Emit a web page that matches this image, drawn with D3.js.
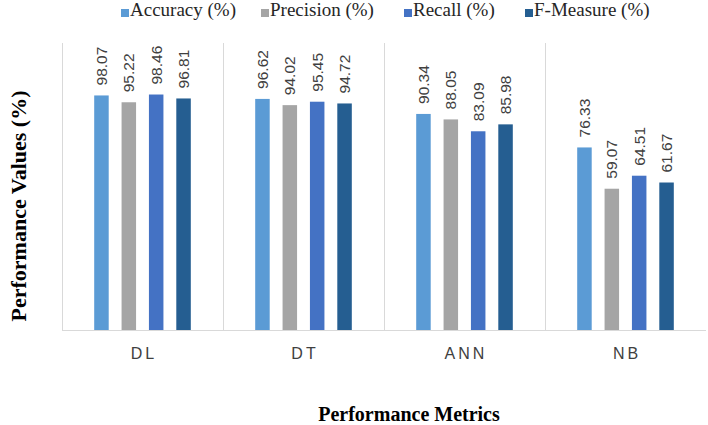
<!DOCTYPE html>
<html>
<head>
<meta charset="utf-8">
<script src="https://cdn.jsdelivr.net/npm/d3@7/dist/d3.min.js"></script>
<style>
  html, body { margin: 0; padding: 0; background: #fff; }
  svg { display: block; }
</style>
</head>
<body>
<svg id="chart" width="708" height="425"></svg>
<script>
const categories = ["DL", "DT", "ANN", "NB"];
const seriesNames = ["Accuracy (%)", "Precision (%)", "Recall (%)", "F-Measure (%)"];
const accuracy  = [98.07, 96.62, 90.34, 76.33];
const precision = [95.22, 94.02, 88.05, 59.07];
const recall    = [98.46, 95.45, 83.09, 64.51];
const fmeasure  = [96.81, 94.72, 85.98, 61.67];
const seriesColors = ["#5B9BD5", "#A5A5A5", "#4472C4", "#255E91"];
const yDomain = [0, 120];

const seriesValues = [accuracy, precision, recall, fmeasure];
const data = categories.map((c, i) => ({
  cat: c,
  vals: seriesNames.map((s, j) => ({ series: s, value: seriesValues[j][i], color: seriesColors[j] }))
}));

const svg = d3.select("#chart");
const plot = { left: 62, right: 706, top: 43, bottom: 330 };

const x0 = d3.scaleBand().domain(categories).range([plot.left, plot.right])
  .paddingInner(0.4).paddingOuter(0.2);
const x1 = d3.scaleBand().domain(seriesNames).range([0, x0.bandwidth()])
  .paddingInner(0.47).paddingOuter(0);
const y = d3.scaleLinear().domain(yDomain).range([plot.bottom, plot.top]);

// category separators
const step = x0.step();
const seps = categories.map((c, i) => plot.left + i * step);
svg.append("g").selectAll("line").data(seps).join("line")
  .attr("x1", d => d + 0.5).attr("x2", d => d + 0.5)
  .attr("y1", y(yDomain[1])).attr("y2", y(0))
  .attr("stroke", "#d9d9d9").attr("stroke-width", 1);

// baseline
svg.append("line")
  .attr("x1", plot.left).attr("x2", plot.right)
  .attr("y1", y(0) + 0.5).attr("y2", y(0) + 0.5)
  .attr("stroke", "#d9d9d9").attr("stroke-width", 1);

// bars
const groups = svg.append("g").selectAll("g").data(data).join("g")
  .attr("transform", d => `translate(${x0(d.cat)},0)`);

groups.selectAll("rect").data(d => d.vals).join("rect")
  .attr("x", d => x1(d.series))
  .attr("width", x1.bandwidth())
  .attr("y", d => y(d.value))
  .attr("height", d => y(0) - y(d.value))
  .attr("fill", d => d.color);

// value labels (rotated)
groups.selectAll("text").data(d => d.vals).join("text")
  .attr("transform", d => `translate(${x1(d.series) + x1.bandwidth() / 2 + 5.5},${y(d.value) - 10}) rotate(-90)`)
  .attr("text-anchor", "start")
  .attr("font-family", "'Liberation Sans', Arial, sans-serif")
  .attr("font-size", 15.5)
  .attr("fill", "#404040")
  .text(d => d.value.toFixed(2));

// category axis labels
const xAxis = d3.axisBottom(x0).tickSize(0).tickPadding(0);
const gx = svg.append("g").attr("transform", `translate(0,${plot.bottom})`).call(xAxis);
gx.select(".domain").remove();
gx.selectAll("text")
  .attr("y", 29)
  .attr("dy", 0)
  .attr("dx", 1.5)
  .attr("font-family", "'Liberation Sans', Arial, sans-serif")
  .attr("font-size", 16)
  .attr("letter-spacing", "3px")
  .attr("fill", "#404040");

// axis titles
svg.append("text")
  .attr("transform", "translate(26,206) rotate(-90)")
  .attr("text-anchor", "middle")
  .attr("font-family", "'Liberation Serif', 'Times New Roman', serif")
  .attr("font-weight", "bold")
  .attr("font-size", 22)
  .attr("fill", "#000")
  .text("Performance Values (%)");

svg.append("text")
  .attr("x", 409).attr("y", 421)
  .attr("text-anchor", "middle")
  .attr("font-family", "'Liberation Serif', 'Times New Roman', serif")
  .attr("font-weight", "bold")
  .attr("font-size", 20)
  .attr("fill", "#000")
  .text("Performance Metrics");

// legend
const legendX = [121, 261, 404, 525];
const legend = svg.append("g").selectAll("g").data(seriesNames).join("g")
  .attr("transform", (d, i) => `translate(${legendX[i]},0)`);
legend.append("rect")
  .attr("x", 0).attr("y", 9).attr("width", 8).attr("height", 8)
  .attr("fill", (d, i) => seriesColors[i]);
legend.append("text")
  .attr("x", 9).attr("y", 16)
  .attr("font-family", "'Liberation Serif', 'Times New Roman', serif")
  .attr("font-size", 19)
  .attr("fill", "#262626")
  .text(d => d);
</script>
</body>
</html>
